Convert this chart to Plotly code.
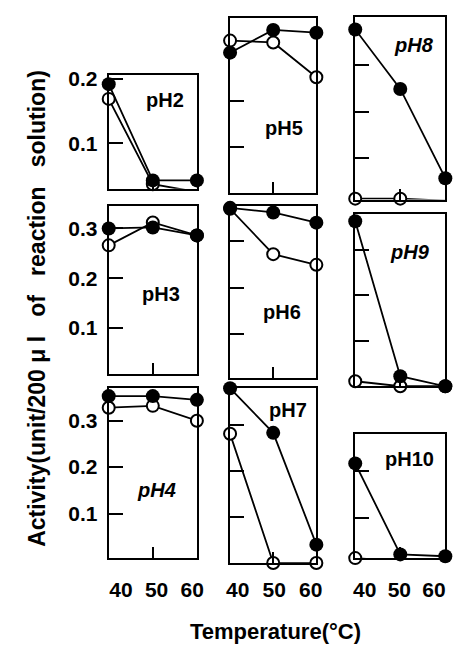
import plotly.graph_objects as go

# ---------------- data ----------------
temps = [40, 50, 60]
temp_labels = ["40", "50", "60"]

ph_names = ["pH2", "pH3", "pH4", "pH5", "pH6", "pH7", "pH8", "pH9", "pH10"]

# filled circles and open circles, activity (unit/200 ul)
filled_pH2 = [0.192, 0.042, 0.042]
open_pH2 = [0.169, 0.036, 0.024]
filled_pH3 = [0.300, 0.302, 0.286]
open_pH3 = [0.266, 0.312, 0.286]
filled_pH4 = [0.353, 0.353, 0.345]
open_pH4 = [0.328, 0.332, 0.300]
filled_pH5 = [0.304, 0.353, 0.347]
open_pH5 = [0.330, 0.326, 0.251]
filled_pH6 = [0.372, 0.362, 0.340]
open_pH6 = [0.370, 0.272, 0.249]
filled_pH7 = [0.380, 0.283, 0.040]
open_pH7 = [0.281, 0.000, 0.000]
filled_pH8 = [0.377, 0.249, 0.057]
open_pH8 = [0.013, 0.013, 0.009]
filled_pH9 = [0.363, 0.022, 0.000]
open_pH9 = [0.011, 0.000, 0.000]
filled_pH10 = [0.217, 0.021, 0.017]
open_pH10 = [0.013, 0.006, 0.004]

filled_series = [filled_pH2, filled_pH3, filled_pH4, filled_pH5, filled_pH6,
                 filled_pH7, filled_pH8, filled_pH9, filled_pH10]
open_series = [open_pH2, open_pH3, open_pH4, open_pH5, open_pH6,
               open_pH7, open_pH8, open_pH9, open_pH10]

ytick_vals_2 = [0.1, 0.2]
ytick_vals_3 = [0.1, 0.2, 0.3]
ytick_text_2 = ["0.1", "0.2"]
ytick_text_3 = ["0.1", "0.2", "0.3"]

NB = "\u00a0"
y_title = ("Activity(unit/200" + NB + "\u03bc" + NB + "l" + NB * 3 + "of" + NB * 3
           + "reaction" + NB * 3 + "solution)")
x_title = "Temperature(\u00b0C)"

# ---------------- layout geometry (page pixels) ----------------
W, H = 463, 646
FONT = "Liberation Sans, Arial, Helvetica, sans-serif"


def fx(px):
    return px / W


def fy(px):
    return 1 - px / H


# per panel: x0, x1, ytop, ybottom, yrange, tickvals, ticktext, show labels, label pos, italic
panels = [
    (102, 195, 68, 183, [0.029, 0.206], ytick_vals_2, ytick_text_2, True, (161, 93), False),
    (102, 195, 200, 371, [0.007, 0.346], ytick_vals_3, ytick_text_3, True, (157, 290), False),
    (102, 195, 385, 557, [0.004, 0.370], ytick_vals_3, ytick_text_3, True, (152, 488), True),
    (230, 321, 10, 187, [0.002, 0.379], ytick_vals_2, ytick_text_2, False, (287, 122), False),
    (230, 321, 200, 375, [0.004, 0.377], ytick_vals_3, ytick_text_3, False, (285, 308), False),
    (230, 321, 385, 562, [0.000, 0.380], ytick_vals_3, ytick_text_3, False, (291, 407), False),
    (362, 457, 9, 194, [0.011, 0.404], ytick_vals_3, ytick_text_3, False, (424, 37), True),
    (362, 457, 209, 383, [0.000, 0.378], ytick_vals_3, ytick_text_3, False, (420, 247), True),
    (362, 457, 431, 557, [0.013, 0.281], ytick_vals_2, ytick_text_2, False, (419, 457), False),
]

fig = go.Figure()
layout = {}
annotations = []

for i, (p, f_vals, o_vals, name) in enumerate(zip(panels, filled_series, open_series, ph_names)):
    x0, x1, yt, yb, yr, tv, tt, showlab, lpos, ital = p
    n = i + 1
    xa = "x" if n == 1 else f"x{n}"
    ya = "y" if n == 1 else f"y{n}"
    xkey = "xaxis" if n == 1 else f"xaxis{n}"
    ykey = "yaxis" if n == 1 else f"yaxis{n}"

    fig.add_trace(go.Scatter(
        x=temps, y=o_vals, xaxis=xa, yaxis=ya, mode="lines+markers",
        line=dict(color="black", width=1.8),
        marker=dict(symbol="circle", size=12, color="white",
                    line=dict(color="black", width=2)),
        cliponaxis=False, showlegend=False, hoverinfo="skip"))
    fig.add_trace(go.Scatter(
        x=temps, y=f_vals, xaxis=xa, yaxis=ya, mode="lines+markers",
        line=dict(color="black", width=1.8),
        marker=dict(symbol="circle", size=14, color="black"),
        cliponaxis=False, showlegend=False, hoverinfo="skip"))

    layout[xkey] = dict(
        domain=[fx(x0), fx(x1)], anchor=ya, range=[40, 60],
        showline=True, mirror=True, linecolor="black", linewidth=2,
        showgrid=False, zeroline=False,
        tickmode="array", tickvals=[50], ticks="inside", ticklen=11,
        tickwidth=2, tickcolor="black", showticklabels=False, fixedrange=True)
    layout[ykey] = dict(
        domain=[fy(yb), fy(yt)], anchor=xa, range=yr,
        showline=True, mirror=True, linecolor="black", linewidth=2,
        showgrid=False, zeroline=False,
        tickmode="array", tickvals=tv, ticktext=tt, ticks="inside",
        ticklen=14, tickwidth=2, tickcolor="black",
        showticklabels=showlab, ticklabelstandoff=5,
        tickfont=dict(family=FONT, size=21, color="black", weight="bold"),
        fixedrange=True)

    annotations.append(dict(
        x=fx(lpos[0]), y=fy(lpos[1]), xref="paper", yref="paper",
        text=(f"<i>{name}</i>" if ital else name), showarrow=False,
        xanchor="center", yanchor="middle",
        font=dict(family=FONT, size=20, color="black", weight="bold")))

# tick-label axes for the temperature values under each column
label_cols = [(115, 190), (238, 315), (372, 445)]
for j, (lx0, lx1) in enumerate(label_cols):
    n = 10 + j
    fig.add_trace(go.Scatter(
        x=temps, y=[0, 0, 0], xaxis=f"x{n}", yaxis=f"y{n}", mode="markers",
        marker=dict(opacity=0), showlegend=False, hoverinfo="skip"))
    layout[f"xaxis{n}"] = dict(
        domain=[fx(lx0), fx(lx1)], anchor=f"y{n}", range=[40, 60],
        showline=False, showgrid=False, zeroline=False, ticks="",
        tickmode="array", tickvals=temps, ticktext=temp_labels,
        tickfont=dict(family=FONT, size=21, color="black", weight="bold"),
        fixedrange=True)
    layout[f"yaxis{n}"] = dict(
        domain=[fy(574), fy(572)], anchor=f"x{n}", visible=False,
        range=[-1, 1], fixedrange=True)

annotations.append(dict(
    x=fx(27), y=fy(304), xref="paper", yref="paper", text=y_title,
    textangle=-90, showarrow=False, xanchor="center", yanchor="middle",
    font=dict(family=FONT, size=23, color="black", weight="bold")))
annotations.append(dict(
    x=fx(278), y=fy(631), xref="paper", yref="paper", text=x_title,
    showarrow=False, xanchor="center", yanchor="middle",
    font=dict(family=FONT, size=22, color="black", weight="bold")))

fig.update_layout(
    width=W, height=H, margin=dict(l=0, r=0, t=0, b=0),
    paper_bgcolor="white", plot_bgcolor="white",
    showlegend=False, annotations=annotations, **layout)

fig.write_html(
    "out.html", config={"displayModeBar": False},
    post_script="document.body.style.margin='0';document.body.style.overflow='hidden';")
